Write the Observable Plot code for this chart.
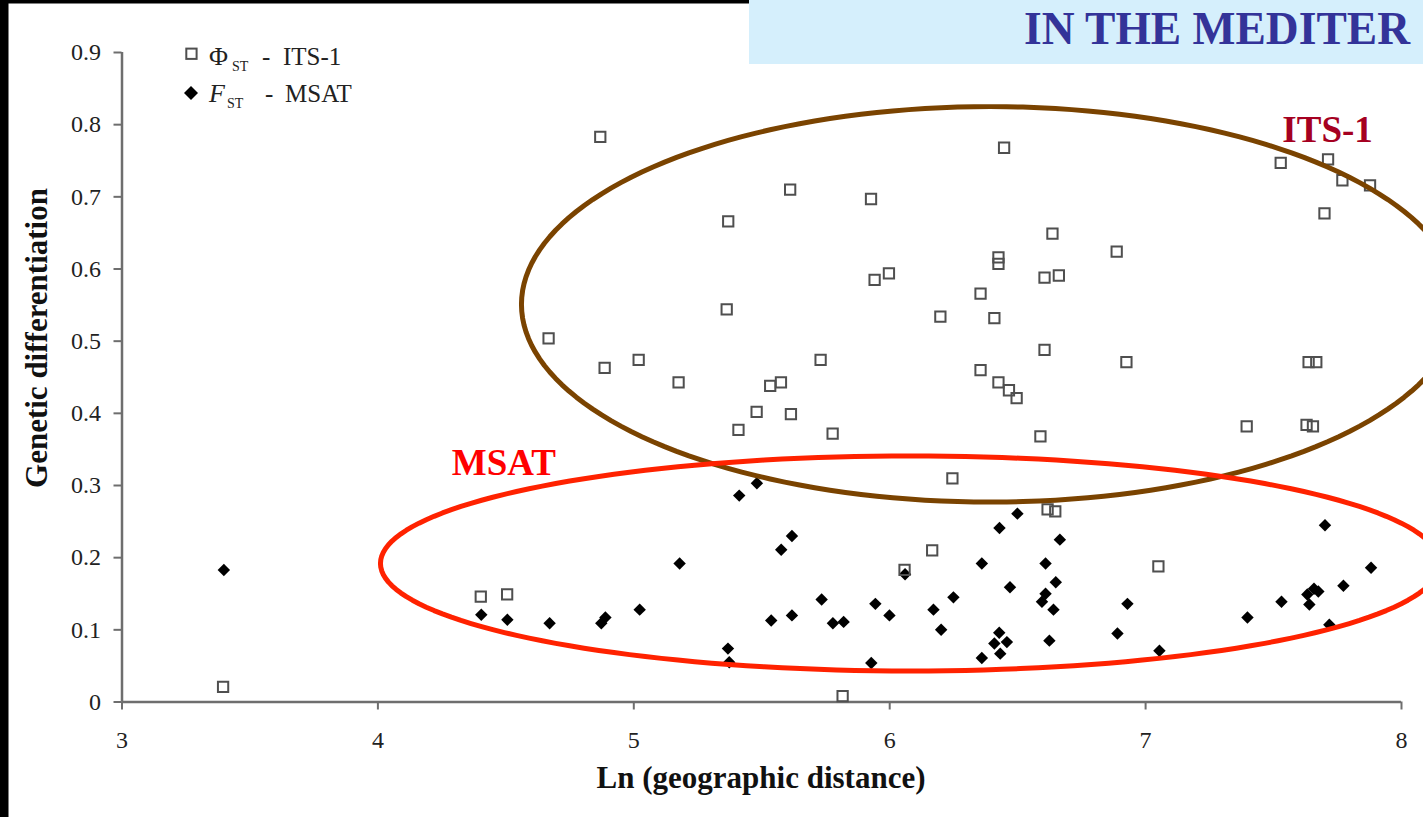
<!DOCTYPE html>
<html>
<head>
<meta charset="utf-8">
<script src="https://cdn.jsdelivr.net/npm/d3@7"></script>
<script src="https://cdn.jsdelivr.net/npm/@observablehq/plot@0.6"></script>
<style>
  html, body { margin: 0; padding: 0; background: #fff; overflow: hidden; }
  #wrap { position: relative; width: 1423px; height: 817px; overflow: hidden; background: #fff; }
  #wrap > svg { position: absolute; left: 0; top: 0; }
  #overlay { pointer-events: none; }
</style>
</head>
<body>
<div id="wrap"></div>
<script>
// ---------- data ----------
const xTicks = [3, 4, 5, 6, 7, 8];
const yTicks = [0, 0.1, 0.2, 0.3, 0.4, 0.5, 0.6, 0.7, 0.8, 0.9];

// Phi_ST - ITS-1 (open squares)
const itsX = [3.395, 4.869, 5.369, 5.611, 5.927, 6.447, 5.363, 4.667, 4.886, 5.019,
              5.175, 5.480, 5.409, 5.533, 5.575, 5.614, 5.730, 5.777, 5.941, 5.997,
              6.198, 6.355, 6.409, 6.425, 6.425, 6.355, 6.425, 6.466, 6.496, 6.636,
              6.605, 6.661, 6.605, 6.589, 6.887, 6.925, 6.245, 7.528, 7.713, 7.769,
              7.877, 7.699, 7.637, 7.667, 7.395, 7.629, 7.654, 4.402, 4.505, 5.816,
              6.166, 6.058, 6.617, 6.647, 7.050];
const itsY = [0.021, 0.783, 0.666, 0.710, 0.697, 0.768, 0.544, 0.504, 0.463, 0.474,
              0.443, 0.402, 0.377, 0.438, 0.443, 0.399, 0.474, 0.372, 0.585, 0.594,
              0.534, 0.566, 0.532, 0.616, 0.607, 0.460, 0.443, 0.432, 0.421, 0.649,
              0.588, 0.591, 0.488, 0.368, 0.624, 0.471, 0.310, 0.747, 0.752, 0.723,
              0.716, 0.677, 0.471, 0.471, 0.382, 0.384, 0.382, 0.146, 0.149, 0.008,
              0.210, 0.183, 0.267, 0.264, 0.188];

// F_ST - MSAT (filled diamonds)
const msatX = [3.398, 4.404, 4.506, 4.671, 4.873, 4.889, 5.023, 5.179, 5.412, 5.481,
               5.576, 5.618, 5.537, 5.618, 5.734, 5.778, 5.820, 5.944, 5.999, 5.368,
               5.373, 5.928, 6.060, 6.499, 6.429, 6.665, 6.360, 6.609, 6.649, 6.470,
               6.249, 6.609, 6.595, 6.171, 6.640, 6.201, 6.428, 6.458, 6.409, 6.432,
               6.360, 6.624, 6.929, 6.890, 7.054, 7.398, 7.531, 7.701, 7.881, 7.773,
               7.632, 7.658, 7.675, 7.640, 7.718];
const msatY = [0.183, 0.121, 0.114, 0.109, 0.109, 0.117, 0.128, 0.192, 0.286, 0.303,
               0.211, 0.230, 0.113, 0.120, 0.142, 0.109, 0.111, 0.136, 0.120, 0.074,
               0.055, 0.054, 0.177, 0.261, 0.241, 0.225, 0.192, 0.192, 0.166, 0.159,
               0.145, 0.150, 0.139, 0.128, 0.128, 0.100, 0.096, 0.083, 0.081, 0.067,
               0.061, 0.085, 0.136, 0.095, 0.071, 0.117, 0.139, 0.245, 0.186, 0.161,
               0.149, 0.157, 0.153, 0.135, 0.107];

// hand-drawn grouping ellipses (annotation, in data units)
const groupNames = ["ITS-1", "MSAT"];
const groupCx = [6.393, 6.080];
const groupCy = [0.551, 0.192];
const groupRx = [1.832, 2.070];
const groupRy = [0.274, 0.149];
const groupLabelX = [7.711, 4.492];
const groupLabelY = [0.793, 0.331];

// ---------- build tables ----------
const its = itsX.map((x, i) => ({x, y: itsY[i]}));
const msat = msatX.map((x, i) => ({x, y: msatY[i]}));
const ellipses = groupNames.map((name, i) =>
  d3.range(0, 360, 2).map(a => ({
    name,
    x: groupCx[i] + groupRx[i] * Math.cos(a * Math.PI / 180),
    y: groupCy[i] + groupRy[i] * Math.sin(a * Math.PI / 180)
  })));
const groupLabels = groupNames.map((name, i) => ({name, x: groupLabelX[i], y: groupLabelY[i]}));

const axisColor = "#6e6e6e";
const serif = "'Liberation Serif', 'Times New Roman', serif";

const chart = Plot.plot({
  width: 1423,
  height: 817,
  marginLeft: 121.5,
  marginRight: 22,
  marginTop: 52,
  marginBottom: 115.5,
  x: {domain: [3, 8]},
  y: {domain: [0, 0.9]},
  style: {fontFamily: serif, fontSize: "24px", color: "#222", background: "transparent", overflow: "visible"},
  marks: [
    Plot.axisX({ticks: xTicks, tickSize: 8, tickPadding: 21, stroke: axisColor, strokeWidth: 2,
                tickFormat: d => String(d), label: null, fill: "#222", fontSize: 24, fontFamily: serif}),
    Plot.axisY({ticks: yTicks, tickSize: 8, tickPadding: 13, stroke: axisColor, strokeWidth: 2,
                tickFormat: d => d === 0 ? "0" : d.toFixed(1), label: null, fill: "#222", fontSize: 24, fontFamily: serif}),
    Plot.ruleY([0], {stroke: axisColor, strokeWidth: 2.5}),
    Plot.ruleX([3], {stroke: axisColor, strokeWidth: 2.5}),
    Plot.dot(msat, {x: "x", y: "y", symbol: "diamond2", r: 5.6, fill: "#000", stroke: "none"}),
    Plot.dot(its, {x: "x", y: "y", symbol: "square", r: 5.8, fill: "none", stroke: "#4f4f4f", strokeWidth: 2}),
    Plot.line(ellipses[0], {x: "x", y: "y", curve: "linear-closed", stroke: "#7a4300", strokeWidth: 5}),
    Plot.line(ellipses[1], {x: "x", y: "y", curve: "linear-closed", stroke: "#ff2200", strokeWidth: 5}),
    Plot.text(groupLabels, {x: "x", y: "y", text: "name", fontSize: 37, fontWeight: "bold",
                            fontFamily: serif, lineAnchor: "middle",
                            fill: d => d.name === "ITS-1" ? "#a50021" : "#ff0000"})
  ]
});
document.getElementById("wrap").appendChild(chart);

// ---------- overlay: slide frame, banner, legend, axis titles ----------
const ns = "http://www.w3.org/2000/svg";
const ov = d3.select("#wrap").append("svg").attr("id", "overlay")
  .attr("width", 1423).attr("height", 817).attr("xmlns", ns)
  .style("font-family", serif);

// slide banner
ov.append("rect").attr("x", 749).attr("y", 0).attr("width", 674).attr("height", 64).attr("fill", "#d5effc");
ov.append("text").attr("x", 1024).attr("y", 44).attr("font-size", 47).attr("font-weight", "bold")
  .attr("fill", "#333399").attr("textLength", 386).attr("lengthAdjust", "spacingAndGlyphs")
  .text("IN THE MEDITER");
// black frame edges
ov.append("rect").attr("x", 0).attr("y", 0).attr("width", 749).attr("height", 3.5).attr("fill", "#000");
ov.append("rect").attr("x", 0).attr("y", 0).attr("width", 8.5).attr("height", 817).attr("fill", "#000");

// legend
const lg = ov.append("g").attr("fill", "#222");
lg.append("rect").attr("x", 186.3).attr("y", 48.6).attr("width", 10.3).attr("height", 10.3)
  .attr("fill", "none").attr("stroke", "#4f4f4f").attr("stroke-width", 2);
lg.append("text").attr("x", 209).attr("y", 65).attr("font-size", 26).text("Φ");
lg.append("text").attr("x", 232).attr("y", 71).attr("font-size", 14).text("ST");
lg.append("text").attr("x", 262).attr("y", 65).attr("font-size", 25).text("-");
lg.append("text").attr("x", 283).attr("y", 65).attr("font-size", 25).text("ITS-1");
lg.append("path").attr("d", "M191,86 L198,93 L191,100 L184,93 Z").attr("fill", "#000");
lg.append("text").attr("x", 209).attr("y", 102).attr("font-size", 26).attr("font-style", "italic").text("F");
lg.append("text").attr("x", 227).attr("y", 108).attr("font-size", 14).text("ST");
lg.append("text").attr("x", 265).attr("y", 102).attr("font-size", 25).text("-");
lg.append("text").attr("x", 285).attr("y", 102).attr("font-size", 25).text("MSAT");

// axis titles
ov.append("text").attr("x", 761).attr("y", 788).attr("text-anchor", "middle")
  .attr("font-size", 31).attr("font-weight", "bold").attr("fill", "#111")
  .text("Ln (geographic distance)");
ov.append("text").attr("transform", "translate(47,338) rotate(-90)").attr("text-anchor", "middle")
  .attr("font-size", 31).attr("font-weight", "bold").attr("fill", "#111")
  .text("Genetic differentiation");
</script>
</body>
</html>
